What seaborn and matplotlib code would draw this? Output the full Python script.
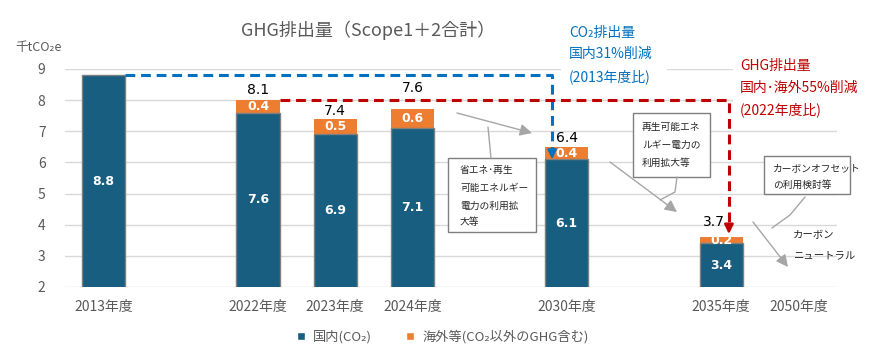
import matplotlib
matplotlib.use("Agg")
import matplotlib.pyplot as plt
import matplotlib.transforms as mtransforms
from matplotlib.patches import Rectangle, Patch
import pandas as pd
import seaborn as sns

# slots on the category axis (gaps are empty years)
slots = ["2013年度", "gap1", "2022年度", "2023年度", "2024年度", "gap2",
         "2030年度", "gap3", "2035年度", "2050年度"]
tick_labels = ["2013年度", "", "2022年度", "2023年度", "2024年度", "",
               "2030年度", "", "2035年度", "2050年度"]

years = ["2013年度", "2022年度", "2023年度", "2024年度", "2030年度", "2035年度"]
domestic = [8.8, 7.6, 6.9, 7.1, 6.1, 3.4]
overseas = [0.0, 0.4, 0.5, 0.6, 0.4, 0.2]
total_labels = ["", "8.1", "7.4", "7.6", "6.4", "3.7"]
yticks = [2, 3, 4, 5, 6, 7, 8, 9]

BLUE = "#175E80"
ORANGE = "#ED7D31"
CO2_BLUE = "#0070C0"
GHG_RED = "#C00000"
GREY = "#A6A6A6"
TXT = "#595959"

W, H = 876, 361

sns.set_theme(style="white")
plt.rcParams["font.family"] = ["Noto Sans CJK JP", "DejaVu Sans"]

df = pd.DataFrame({"year": years, "domestic": domestic, "overseas": overseas})
df["stack"] = df["domestic"] + df["overseas"]

fig = plt.figure(figsize=(W / 100, H / 100), dpi=100)
ax = fig.add_axes([65 / W, 1 - 287 / H, 772 / W, 218 / H])
# pixel coords, origin top-left
tp = mtransforms.Affine2D().scale(1 / W, -1 / H).translate(0, 1) + fig.transFigure

bw = 0.56
sns.barplot(data=df, x="year", y="stack", order=slots, color=ORANGE,
            width=bw, saturation=1, linewidth=0, ax=ax, zorder=2)
sns.barplot(data=df, x="year", y="domestic", order=slots, color=BLUE,
            width=bw, saturation=1, edgecolor="#7F7F7F", linewidth=1,
            ax=ax, zorder=3)

ymin, ymax = yticks[0], yticks[-1]
ax.set_ylim(ymin, ymax)
ax.set_xlim(-0.5, len(slots) - 0.5)
ax.set_yticks(yticks)
ax.set_xticks(range(len(slots)))
ax.set_xticklabels(tick_labels)
ax.set_xlabel("")
ax.set_ylabel("")
ax.yaxis.grid(True, color="#D9D9D9", lw=1)
ax.set_axisbelow(True)
for s in ax.spines.values():
    s.set_visible(False)
ax.tick_params(axis="y", length=0, pad=14, labelsize=10, labelcolor=TXT)
ax.tick_params(axis="x", length=0, pad=9, labelsize=10, labelcolor=TXT)

# value labels
label_dy = [0, 0.33, 0.26, 0.7, 0.3, 0.49]
label_dx = [0, 0, 0, 0, 0, -0.09]
for i, yr in enumerate(years):
    xi = slots.index(yr)
    d, o = domestic[i], overseas[i]
    ax.text(xi, (ymin + d) / 2, f"{d}", ha="center", va="center",
            color="white", fontsize=9, fontweight="bold",
            family="DejaVu Sans", zorder=6)
    if o > 0:
        ax.text(xi, d + o / 2, f"{o}", ha="center", va="center",
                color="white", fontsize=9, fontweight="bold",
                family="DejaVu Sans", zorder=6)
    if total_labels[i]:
        ax.text(xi + label_dx[i], d + o + label_dy[i], total_labels[i],
                ha="center", va="center", color="black", fontsize=10,
                family="DejaVu Sans", zorder=6)

head = "-|>,head_length=0.45,head_width=0.22"

# blue dashed reduction arrow (2013 -> 2030 domestic)
x0 = slots.index("2013年度") + bw / 2
xb = slots.index("2030年度") - 0.19
yb0, yb1 = domestic[0], domestic[4]
ax.plot([x0, xb, xb], [yb0, yb0, yb1 + 0.3], color=CO2_BLUE, lw=2.2,
        dashes=(3.2, 1.9), solid_capstyle="butt", zorder=7, clip_on=False)
ax.annotate("", xy=(xb, yb1), xytext=(xb, yb1 + 0.32),
            arrowprops=dict(arrowstyle=head, color=CO2_BLUE, lw=1.6,
                            shrinkA=0, shrinkB=0),
            zorder=7)

# red dashed reduction arrow (2022 -> 2035 total)
x2 = slots.index("2022年度") + bw / 2
xr = slots.index("2035年度") + 0.1
yr0 = domestic[1] + overseas[1]
yr1 = float(total_labels[5])
ax.plot([x2, xr, xr], [yr0, yr0, yr1 + 0.3], color=GHG_RED, lw=2.2,
        dashes=(3.2, 1.9), solid_capstyle="butt", zorder=7, clip_on=False)
ax.annotate("", xy=(xr, yr1), xytext=(xr, yr1 + 0.32),
            arrowprops=dict(arrowstyle=head, color=GHG_RED, lw=1.8,
                            shrinkA=0, shrinkB=0),
            zorder=7)

# white backgrounds behind the reduction notes
ax.add_patch(Rectangle((561, 20), 106, 70, transform=tp, facecolor="white",
                       edgecolor="none", zorder=1, clip_on=False))
ax.add_patch(Rectangle((733, 52), 110, 70, transform=tp, facecolor="white",
                       edgecolor="none", zorder=1, clip_on=False))

co2_lines = ["CO₂排出量", "国内31%削減", "(2013年度比)"]
for t, y in zip(co2_lines, [33, 54, 77]):
    ax.text(569, y, t, transform=tp, color=CO2_BLUE, fontsize=10,
            va="center", ha="left", clip_on=False, zorder=8)
ghg_lines = ["GHG排出量", "国内･海外55%削減", "(2022年度比)"]
for t, y in zip(ghg_lines, [66, 88, 110]):
    ax.text(740, y, t, transform=tp, color=GHG_RED, fontsize=10,
            va="center", ha="left", clip_on=False, zorder=8)

# callout boxes
boxes = [
    ((448, 158, 88, 74), 460, [170, 187.5, 205.5, 222],
     ["省エネ･再生", "可能エネルギー", "電力の利用拡", "大等"]),
    ((633, 113, 77, 64), 642, [127, 145, 163],
     ["再生可能エネ", "ルギー電力の", "利用拡大等"]),
    ((764, 156, 86, 38), 773, [168, 185],
     ["カーボンオフセット", "の利用検討等"]),
]
for (bx, by, bwid, bh), tx, tys, lines in boxes:
    ax.add_patch(Rectangle((bx, by), bwid, bh, transform=tp,
                           facecolor="white", edgecolor="#7F7F7F", lw=1,
                           zorder=4, clip_on=False))
    for t, y in zip(lines, tys):
        ax.text(tx, y, t, transform=tp, fontsize=7, color="#262626",
                va="center", ha="left", clip_on=False, zorder=5)

ax.text(793, 235, "カーボン", transform=tp, fontsize=7.5, color="#262626",
        va="center", ha="left", clip_on=False, zorder=5)
ax.text(793, 255, "ニュートラル", transform=tp, fontsize=7.5, color="#262626",
        va="center", ha="left", clip_on=False, zorder=5)

# grey leader lines and arrows
leaders = [
    [(491, 158), (488, 127)],
    [(677, 177), (675, 192), (660, 200)],
    [(805, 197), (790, 215), (772, 228)],
]
for pts in leaders:
    xs, ys = zip(*pts)
    ax.plot(xs, ys, transform=tp, color=GREY, lw=1, clip_on=False, zorder=4)
arrows = [((457, 113), (532, 133)), ((610, 162), (677, 212)),
          ((753, 222), (788, 267))]
for start, end in arrows:
    ax.annotate("", xy=end, xycoords=tp, xytext=start, textcoords=tp,
                arrowprops=dict(arrowstyle="-|>,head_length=0.6,head_width=0.3",
                                color=GREY, lw=1, shrinkA=0, shrinkB=0),
                zorder=4)

# title, unit, legend
fig.text(368 / W, 1 - 30 / H, "GHG排出量（Scope1＋2合計）", ha="center",
         va="center", fontsize=13, color=TXT)
fig.text(15 / W, 1 - 47 / H, "千tCO₂e", ha="left", va="center",
         fontsize=9, color=TXT)

handles = [Patch(facecolor=BLUE), Patch(facecolor=ORANGE)]
fig.legend(handles, ["国内(CO₂)", "海外等(CO₂以外のGHG含む)"], loc="center",
           bbox_to_anchor=(443 / W, 1 - 337 / H), ncol=2, frameon=False,
           handlelength=0.6, handleheight=0.6, handletextpad=0.6,
           columnspacing=2.6, fontsize=9.5, labelcolor=TXT)

fig.savefig("out.png", dpi=100)
